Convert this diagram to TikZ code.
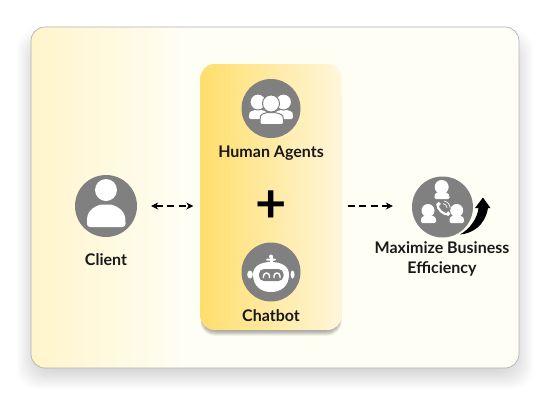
\documentclass[tikz,border=0pt]{standalone}
\usepackage{fontspec}
\setmainfont{Lato}
\usetikzlibrary{arrows.meta}
\definecolor{icongray}{HTML}{808080}
\definecolor{cardbg}{HTML}{FFFEF4}
\definecolor{cardL}{HTML}{FFF4CB}
\definecolor{boxL}{HTML}{FFDE6C}
\definecolor{boxR}{HTML}{FFF6DB}
\pgfdeclarehorizontalshading{cardshade}{100bp}{color(0bp)=(cardL); color(25bp)=(cardL); color(41bp)=(cardbg); color(100bp)=(cardbg)}
\pgfdeclarehorizontalshading{boxshade}{100bp}{color(0bp)=(boxL); color(25bp)=(boxL); color(75bp)=(boxR); color(100bp)=(boxR)}
\tikzset{
  x=1pt,y=-1pt,
  iconcirc/.style={circle,fill=icongray,draw=none,minimum size=#1,inner sep=0pt},
  lab/.style={font=\bfseries\fontsize{16}{20}\selectfont,text=black!90,inner sep=0pt,align=center},
  link/.style={draw=black,line width=1.1pt,dash pattern=on 7pt off 4.5pt},
  tip/.style={-{Stealth[length=7pt,width=7pt]}},
  twotip/.style={{Stealth[length=7pt,width=7pt]}-{Stealth[length=7pt,width=7pt]}},
  whtg/.style={fill=white,draw=icongray,line width=1pt},
}
\begin{document}
\begin{tikzpicture}
\useasboundingbox (0,0) rectangle (550,400);
\fill[white] (0,0) rectangle (550,400);
% card shadow
\foreach \i in {0,...,23}{
  \fill[black,opacity=0.0075,rounded corners=20] ({31-14+\i},{27+2+\i}) rectangle ({519+14-\i},{368+21-\i});
}
\node[draw=black!30,line width=0.7pt,rounded corners=14,minimum width=488,minimum height=341,inner sep=0pt,shading=cardshade,shading angle=0] (card) at (275,197.5) {};
% box shadow
\foreach \i in {0,...,5}{
  \fill[black,opacity=0.07,rounded corners=14] ({200.5+\i*0.4},{64+20}) rectangle ({341.5-\i*0.4},{330+5.5-\i});
}
\node[rounded corners=14,minimum width=141,minimum height=266,inner sep=0pt,shading=boxshade,shading angle=0,draw=none] (box) at (271,197) {};
% icon discs
\node[iconcirc=62] (client) at (106,206) {};
\node[iconcirc=59] (human) at (271,108.5) {};
\node[iconcirc=59] (bot) at (271,272) {};
\node[iconcirc=61] (eff) at (442.5,207) {};
% labels
\node[lab] (clientlab) at (106,259.5) {Client};
\node[lab] (humanlab) at (271,153) {Human Agents};
\node[lab] (botlab) at (271,316) {Chatbot};
\node[lab] (efflab) at (442,258.5) {Maximize Business\\Efficiency};
\node[inner sep=0pt,font=\bfseries\fontsize{54}{54}\selectfont,text=black] (plus) at (271,206.5) {+};
% connectors
\draw[link,twotip,shorten <=14pt,shorten >=7pt] (client.east) -- (box.west |- client.east);
\draw[link,tip,shorten <=6pt,shorten >=19pt] (box.east |- client.east) -- (eff.west |- client.east);
% client icon
\fill[white] (106,190) circle (11);
\fill[white,rounded corners=3] (87,227) -- (87,220) .. controls (88,210) and (97,204.5) .. (106,204.5) .. controls (115,204.5) and (124,210) .. (125.5,220) -- (125.5,227) -- cycle;
% human icon
\fill[white,rounded corners=2] (249,119) -- (249,115) .. controls (250,111) and (255,110) .. (258,110) .. controls (262,110) and (266,111) .. (268,115) -- (268,119) -- cycle;
\fill[white,rounded corners=2] (293,119) -- (293,115) .. controls (292,111) and (287,110) .. (284,110) .. controls (280,110) and (276,111) .. (274,115) -- (274,119) -- cycle;
\filldraw[whtg] (258,102) circle (8);
\filldraw[whtg] (283.5,102) circle (8);
\filldraw[whtg,rounded corners=2] (260,124.5) -- (260,118) .. controls (261,114) and (266,112.5) .. (271,112.5) .. controls (276,112.5) and (282,114) .. (283.5,118) -- (283.5,124.5) -- cycle;
\filldraw[whtg] (271,103.5) circle (8.5);
% chatbot icon
\fill[white] (253,274.5) .. controls (253,266) and (261,262) .. (271,262) .. controls (281,262) and (289,266) .. (289,274.5) .. controls (289,286) and (281,292) .. (271,292) .. controls (261,292) and (253,286) .. (253,274.5) -- cycle;
\fill[white] (250,274.5) ellipse (2.8 and 4);
\fill[white] (292.5,274.5) ellipse (2 and 4);
\fill[white] (271,256.5) circle (2);
\fill[white] (269.5,256) rectangle (272.5,263);
\fill[white,rounded corners=1] (266,258.5) rectangle (276,260.5);
\fill[icongray,rounded corners=5] (259,269) rectangle (283.5,281);
\draw[white,line width=1.4pt] (263.5,278) -- (263.5,276) arc[start angle=-180,end angle=0,radius=3] -- (269.5,278);
\draw[white,line width=1.4pt] (274,278) -- (274,276) arc[start angle=-180,end angle=0,radius=3] -- (280,278);
% efficiency icon
\fill[white] (441.7,187) circle (7);
\fill[white,rounded corners=1.5] (434.5,199) -- (434.5,195.5) .. controls (435.5,193) and (438,192) .. (441.7,192) .. controls (445,192) and (448,193) .. (449.5,195.5) -- (449.5,199) -- cycle;
\fill[white] (428,210.5) circle (6.5);
\fill[white,rounded corners=1.5] (421,223) -- (421,219) .. controls (422,216.5) and (425,215.5) .. (428.5,215.5) .. controls (432,215.5) and (435,216.5) .. (436,219) -- (436,223) -- cycle;
\fill[white] (456.7,210.5) circle (6.5);
\fill[white,rounded corners=1.5] (449.5,223) -- (449.5,219) .. controls (450.5,216.5) and (453,215.5) .. (456.7,215.5) .. controls (460,215.5) and (463,216.5) .. (464,219) -- (464,223) -- cycle;
\draw[white,line width=2.2pt] (437.5,204) .. controls (437,209) and (443,215) .. (449,214.5);
\draw[white,line width=3.5pt] (437.3,203) -- (439.6,205.2);
\draw[white,line width=3.5pt] (447,212.5) -- (449.3,214.8);
\draw[white,line width=0.7pt] (443,203.5) arc[start angle=-80,end angle=-5,radius=5];
\draw[white,line width=0.7pt] (444,201) arc[start angle=-80,end angle=-5,radius=7.5];
% rising arrow
\fill[black] (460,234.5) .. controls (472,233.5) and (485,226) .. (488,208) -- (490.5,208) -- (483,197.5) -- (475,208) -- (478.5,208) .. controls (477.5,218) and (470,229) .. (460,234.5) -- cycle;
\end{tikzpicture}
\end{document}
